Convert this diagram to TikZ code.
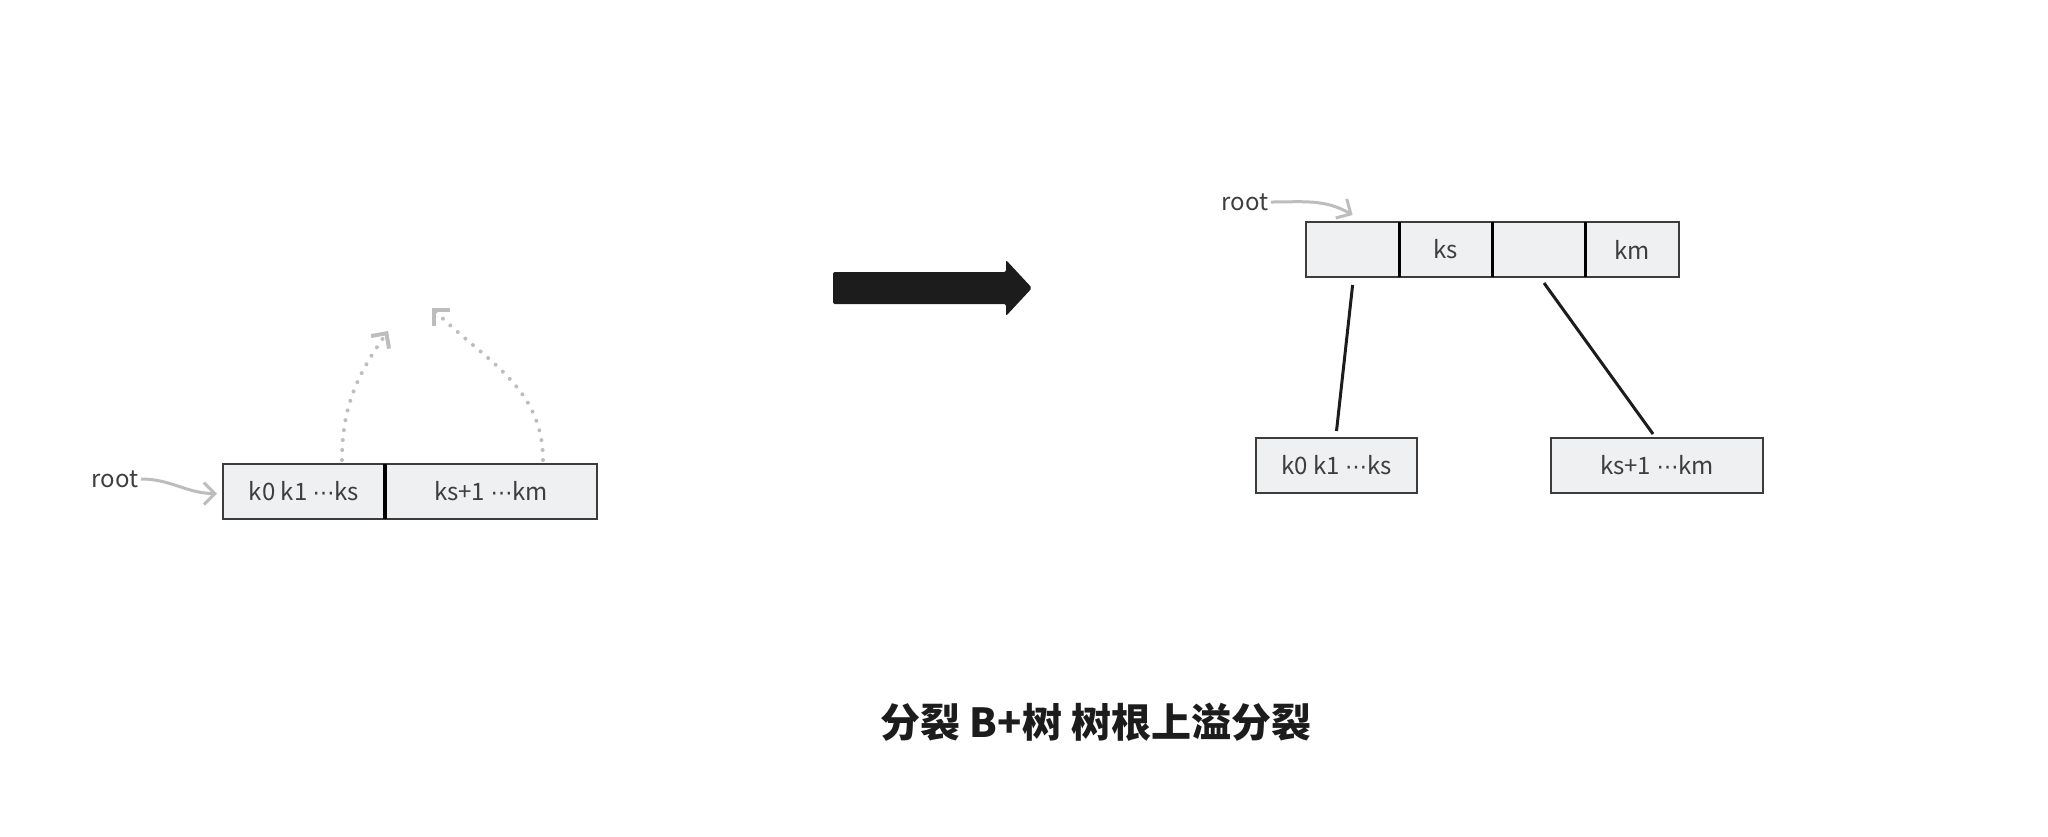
\documentclass[tikz,border=0pt]{standalone}
\usepackage{fontspec}
\setmainfont{Noto Sans CJK SC}
\newfontfamily\dotsfont{DejaVu Sans}
\usetikzlibrary{arrows.meta}
\definecolor{cellfill}{HTML}{EFF0F2}
\definecolor{cellline}{HTML}{3C3C3C}
\definecolor{pointergray}{HTML}{BDBDBD}
\definecolor{inkdark}{HTML}{1C1C1C}
\newcommand{\mdots}{{\dotsfont\fontsize{11}{14}\selectfont ⋯}}
\tikzset{
  cell/.style={draw=cellline, fill=cellfill, line width=1pt, minimum height=27.5pt,
    inner sep=0pt, outer sep=0pt, font=\fontsize{12}{14}\selectfont, text=inkdark!85},
  divider/.style={line width=1.6pt, black},
  pointer/.style={draw=pointergray, line width=1.5pt, -{Straight Barb[length=5.5pt,width=11pt]}},
  lift/.style={pointer, line width=2pt, dash pattern=on 0pt off 5pt, line cap=round},
  link/.style={line width=1.5pt, inkdark},
  tag/.style={inner sep=1pt, font=\fontsize{12}{14}\selectfont, text=inkdark!85},
}
\begin{document}
\begin{tikzpicture}[x=0.5pt,y=-0.5pt]
  \useasboundingbox (0,0) rectangle (2048,836);
  % before the split
  \node[cell, minimum width=81pt, anchor=north west] (l1) at (223,464) {k0 k1 \mdots ks};
  \node[cell, minimum width=106pt, anchor=west] (l2) at (l1.east) {ks+1 \mdots km};
  \draw[divider] (l1.north east) -- (l1.south east);
  \node[tag, anchor=east] (lroot) at (141,479) {root};
  \coordinate (up1) at (388,331);
  \coordinate (up2) at (432,308);
  \draw[pointer] (lroot.east) to[out=0,in=180] ([xshift=-3pt,yshift=-1pt]l1.west);
  \draw[lift] ([xshift=19pt,yshift=2pt]l1.north) to[out=90,in=235] (up1);
  \draw[lift] ([xshift=26pt,yshift=2pt]l2.north) to[out=90,in=-45] (up2);

  \fill[inkdark, rounded corners=1pt] (833,272) -- (1006,272) -- (1006,260) -- (1032,288)
    -- (1006,316) -- (1006,304) -- (833,304) -- cycle;

  % after the split
  \node[cell, minimum width=46.6pt, anchor=north west] (ra) at (1306,222) {};
  \node[cell, minimum width=46.6pt, anchor=west] (rb) at (ra.east) {ks};
  \node[cell, minimum width=46.6pt, anchor=west] (rc) at (rb.east) {};
  \node[cell, minimum width=46.6pt, anchor=west] (rd) at (rc.east) {km};
  \draw[divider] (ra.north east) -- (ra.south east);
  \draw[divider] (rb.north east) -- (rb.south east);
  \draw[divider] (rc.north east) -- (rc.south east);
  \node[tag, anchor=east] (rroot) at (1271,202) {root};
  \draw[pointer] (rroot.east) to[out=0,in=150] ([yshift=3.5pt]ra.north);

  \node[cell, minimum width=80.5pt, anchor=north west] (cl) at (1256,438) {k0 k1 \mdots ks};
  \node[cell, minimum width=106pt, anchor=north west] (cr) at (1551,438) {ks+1 \mdots km};
  \draw[link] ([yshift=-4pt]ra.south) -- ([yshift=3.5pt]cl.north);
  \draw[link] ([xshift=2.5pt,yshift=-3pt]rc.south) -- ([xshift=-2pt,yshift=2pt]cr.north);

  \node[font=\fontsize{20}{24}\selectfont\bfseries, text=inkdark] (caption) at (1096,722)
    {分裂 B+树 树根上溢分裂};
\end{tikzpicture}
\end{document}
